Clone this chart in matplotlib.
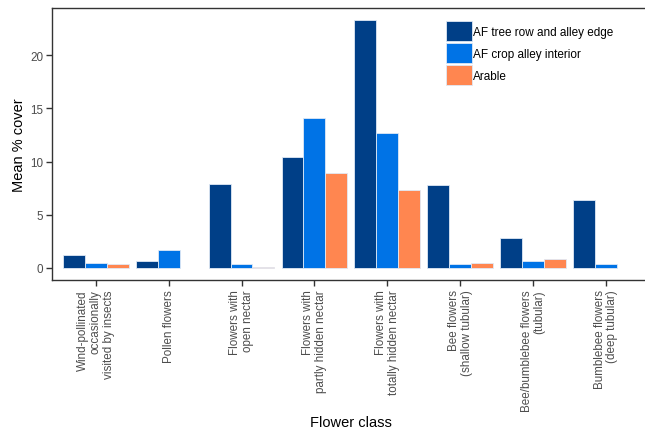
import matplotlib.pyplot as plt
import numpy as np

plt.rcParams['font.family'] = ['Liberation Sans', 'DejaVu Sans']

# Flower classes along the x axis
classes = [
    'Wind-pollinated\noccasionally\nvisited by insects',
    'Pollen flowers',
    'Flowers with\nopen nectar',
    'Flowers with\npartly hidden nectar',
    'Flowers with\ntotally hidden nectar',
    'Bee flowers\n(shallow tubular)',
    'Bee/bumblebee flowers\n(tubular)',
    'Bumblebee flowers\n(deep tubular)',
]

# Mean % cover per habitat
tree_row = [1.2, 0.6, 7.9, 10.4, 23.3, 7.8, 2.75, 6.4]
crop_alley = [0.45, 1.7, 0.35, 14.15, 12.65, 0.35, 0.6, 0.35]
arable = [0.35, np.nan, 0.1, 8.95, 7.35, 0.45, 0.8, np.nan]

series = ['AF tree row and alley edge', 'AF crop alley interior', 'Arable']
colors = ['#003F87', '#0073E6', '#FF8650']

fig = plt.figure(figsize=(6.45, 4.31), dpi=100)
ax = fig.add_axes([52 / 645, 1 - 281 / 431, 597.7 / 645, 272 / 431])

x = np.arange(len(classes))
w = 0.3
for i, (vals, lab, col) in enumerate(zip([tree_row, crop_alley, arable], series, colors)):
    ax.bar(x + (i - 1) * w, vals, width=w, color=col, label=lab,
           edgecolor='#dfe9f5', linewidth=0.6)

ax.set_xlim(-0.6, len(classes) - 0.4)
ax.set_ylim(-1.165, 24.47)
ax.set_yticks([0, 5, 10, 15, 20])
ax.set_xticks(x)
ax.set_xticklabels(classes, rotation=90, ha='center', va='top',
                   multialignment='right', linespacing=1.1)

for side in ['left', 'bottom', 'top']:
    ax.spines[side].set_color('#333333')
    ax.spines[side].set_linewidth(1.0)
ax.spines['right'].set_visible(False)

ax.tick_params(axis='both', length=4, width=1, color='#333333',
               labelsize=8.4, labelcolor='#4D4D4D', pad=2.5)

ax.set_ylabel('Mean % cover', fontsize=10.5, labelpad=3)
ax.set_xlabel('Flower class', fontsize=10.5, labelpad=3)

ax.legend(loc='upper left', bbox_to_anchor=(446 / 645, 1 - 21.7 / 431),
          bbox_transform=fig.transFigure, frameon=False, fontsize=8.5,
          handlelength=2.2, handleheight=2.28, labelspacing=0.15,
          handletextpad=0.1, borderpad=0, borderaxespad=0)

fig.savefig('out.png', dpi=100)
